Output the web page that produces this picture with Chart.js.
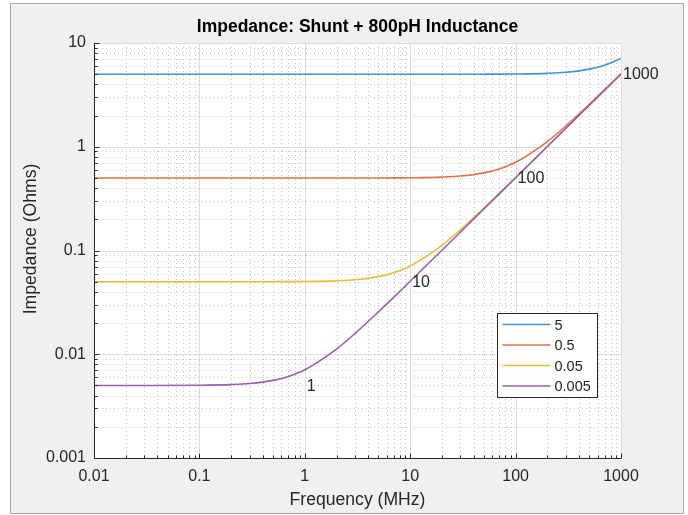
<!DOCTYPE html>
<html>
<head>
<meta charset="utf-8">
<title>Impedance: Shunt + 800pH Inductance</title>
<script src="https://cdn.jsdelivr.net/npm/chart.js@4.4.1/dist/chart.umd.min.js"></script>
<style>
  html, body { margin: 0; padding: 0; background: #fff; }
  canvas { display: block; }
</style>
</head>
<body>
<canvas id="zchart" width="688" height="515"></canvas>
<script>
// ---- data: |Z| of shunt R in series with 800pH, sampled at these frequencies ----
const freqMHz = [0.01, 0.03, 0.1, 0.2, 0.3, 0.5, 0.7, 1, 2, 3, 5, 7, 10, 20, 30, 50, 70, 100, 200, 300, 500, 700, 1000];

const shuntNames = ['5', '0.5', '0.05', '0.005'];
const zR5    = [5, 5, 5, 5, 5, 5, 5, 5, 5, 5, 5, 5, 5, 5, 5, 5.006, 5.012, 5.025, 5.10, 5.222, 5.596, 6.114, 7.09];
const zR05   = [0.5, 0.5, 0.5, 0.5, 0.5, 0.5, 0.5, 0.5, 0.5, 0.5002, 0.5006, 0.5012, 0.5025, 0.510, 0.5222, 0.5596, 0.6114, 0.709, 1.123, 1.589, 2.563, 3.554, 5.052];
const zR005  = [0.05, 0.05, 0.05, 0.05, 0.05, 0.05006, 0.05012, 0.05025, 0.0510, 0.05222, 0.05596, 0.06114, 0.0709, 0.1123, 0.1589, 0.2563, 0.3554, 0.5052, 1.006, 1.509, 2.514, 3.519, 5.028];
const zR0005 = [0.005, 0.005, 0.005025, 0.0051, 0.005222, 0.005596, 0.006114, 0.00709, 0.01123, 0.01589, 0.02563, 0.03554, 0.05052, 0.1006, 0.1509, 0.2514, 0.3519, 0.5027, 1.005, 1.508, 2.513, 3.519, 5.027];
const seriesZ = [zR5, zR05, zR005, zR0005];
const seriesColors = ['#3f95d3', '#df7448', '#ecbc3a', '#9d5bb3'];

const xTicks = [0.01, 0.1, 1, 10, 100, 1000];
const xTickLabels = ['0.01', '0.1', '1', '10', '100', '1000'];
const yTicks = [0.001, 0.01, 0.1, 1, 10];
const yTickLabels = ['0.001', '0.01', '0.1', '1', '10'];

// reactance of the inductor alone, marked every decade
const markFreqs = [1, 10, 100, 1000];
const markZ = [0.00503, 0.0503, 0.503, 5.03];
const markLabels = ['1', '10', '100', '1000'];

const FONT = '"Liberation Sans", Arial, Helvetica, sans-serif';
const TEXT = '#262626';

// ---- MATLAB-style frame, grid, axes, legend, labels ----
const figPlugin = {
  id: 'figStyle',
  beforeDraw(chart) {
    const { ctx, chartArea: a } = chart;
    ctx.save();
    ctx.fillStyle = '#fff';
    ctx.fillRect(0, 0, chart.width, chart.height);
    ctx.fillStyle = '#f0f0f0';
    ctx.strokeStyle = '#a8a8a8';
    ctx.lineWidth = 1;
    ctx.fillRect(10.5, 3.5, 673, 510);
    ctx.strokeRect(10.5, 3.5, 673, 510);
    ctx.fillStyle = '#fff';
    ctx.fillRect(a.left, a.top, a.right - a.left, a.bottom - a.top);
    ctx.restore();
  },
  beforeDatasetsDraw(chart) {
    const { ctx, chartArea: a, scales: { x, y } } = chart;
    const xs = pos => Math.round(x.getPixelForValue(pos)) + 0.5;
    const ys = pos => Math.round(y.getPixelForValue(pos)) + 0.5;
    ctx.save();
    ctx.lineWidth = 1;
    // minor grid, dotted
    ctx.strokeStyle = '#c4c4c4';
    ctx.setLineDash([1, 3]);
    ctx.beginPath();
    xTicks.slice(0, -1).forEach(d => {
      for (let m = 2; m <= 9; m++) {
        const px = xs(d * m);
        ctx.moveTo(px, a.top); ctx.lineTo(px, a.bottom);
      }
    });
    yTicks.slice(0, -1).forEach(d => {
      for (let m = 2; m <= 9; m++) {
        const py = ys(d * m);
        ctx.moveTo(a.left, py); ctx.lineTo(a.right, py);
      }
    });
    ctx.stroke();
    // major grid, solid
    ctx.setLineDash([]);
    ctx.strokeStyle = '#dcdcdc';
    ctx.beginPath();
    xTicks.forEach(v => { const px = xs(v); ctx.moveTo(px, a.top); ctx.lineTo(px, a.bottom); });
    yTicks.forEach(v => { const py = ys(v); ctx.moveTo(a.left, py); ctx.lineTo(a.right, py); });
    ctx.stroke();
    ctx.restore();
  },
  afterDatasetsDraw(chart) {
    const { ctx, chartArea: a, scales: { x, y } } = chart;
    const L = Math.round(a.left) + 0.5;
    const B = Math.round(a.bottom) + 0.5;
    ctx.save();

    // left + bottom axis lines with inward ticks
    ctx.strokeStyle = TEXT;
    ctx.lineWidth = 1;
    ctx.beginPath();
    ctx.moveTo(L, a.top); ctx.lineTo(L, B); ctx.lineTo(a.right, B);
    xTicks.forEach((d, i) => {
      const px = Math.round(x.getPixelForValue(d)) + 0.5;
      ctx.moveTo(px, B); ctx.lineTo(px, B - 5);
      if (i < xTicks.length - 1) {
        for (let m = 2; m <= 9; m++) {
          const mx = Math.round(x.getPixelForValue(d * m)) + 0.5;
          ctx.moveTo(mx, B); ctx.lineTo(mx, B - 3);
        }
      }
    });
    yTicks.forEach((d, i) => {
      const py = Math.round(y.getPixelForValue(d)) + 0.5;
      ctx.moveTo(L, py); ctx.lineTo(L + 5, py);
      if (i < yTicks.length - 1) {
        for (let m = 2; m <= 9; m++) {
          const my = Math.round(y.getPixelForValue(d * m)) + 0.5;
          ctx.moveTo(L, my); ctx.lineTo(L + 3, my);
        }
      }
    });
    ctx.stroke();

    // decade markers on the inductive slope
    ctx.fillStyle = TEXT;
    ctx.font = '16px ' + FONT;
    ctx.textAlign = 'left';
    ctx.textBaseline = 'middle';
    markFreqs.forEach((f, i) => {
      ctx.fillText(markLabels[i], x.getPixelForValue(f) + 2, y.getPixelForValue(markZ[i]) + 1);
    });

    // legend box
    const bw = 100, bh = 84;
    const bx = Math.round(a.right - 24 - bw) + 0.5;
    const by = Math.round(a.bottom - 61 - bh) + 0.5;
    ctx.fillStyle = '#fff';
    ctx.fillRect(bx, by, bw, bh);
    ctx.strokeStyle = TEXT;
    ctx.strokeRect(bx, by, bw, bh);
    ctx.font = '14.5px ' + FONT;
    chart.data.datasets.slice().sort((p, q) => p.legendIdx - q.legendIdx).forEach((ds, i) => {
      const ry = by + 11 + i * 20.5;
      ctx.strokeStyle = ds.borderColor;
      ctx.lineWidth = 1.5;
      ctx.beginPath();
      ctx.moveTo(bx + 5, ry); ctx.lineTo(bx + 53, ry);
      ctx.stroke();
      ctx.fillStyle = TEXT;
      ctx.fillText(ds.label, bx + 57, ry + 1);
    });
    ctx.restore();
  },
  afterDraw(chart) {
    const { ctx, chartArea: a } = chart;
    ctx.save();
    ctx.textAlign = 'center';
    ctx.textBaseline = 'middle';
    ctx.fillStyle = '#000';
    ctx.font = 'bold 17.5px ' + FONT;
    ctx.fillText('Impedance: Shunt + 800pH Inductance', (a.left + a.right) / 2, 27.5);
    // y axis title sits a little above the axis centre
    ctx.fillStyle = TEXT;
    ctx.font = '17.6px ' + FONT;
    ctx.translate(31, 239);
    ctx.rotate(-Math.PI / 2);
    ctx.fillText('Impedance (Ohms)', 0, 0);
    ctx.restore();
  }
};

// purple on top, blue at the bottom
const datasets = shuntNames.map((name, i) => ({
  label: name,
  legendIdx: i,
  order: shuntNames.length - 1 - i,
  data: freqMHz.map((f, k) => ({ x: f, y: seriesZ[i][k] })),
  borderColor: seriesColors[i],
  borderWidth: 1.6,
  pointRadius: 0,
  fill: false,
  cubicInterpolationMode: 'monotone'
}));

new Chart(document.getElementById('zchart'), {
  type: 'line',
  data: { datasets },
  plugins: [figPlugin],
  options: {
    responsive: false,
    animation: false,
    devicePixelRatio: 1,
    layout: { padding: { left: 10, right: 67, top: 43, bottom: 0 } },
    plugins: { legend: { display: false }, tooltip: { enabled: false }, title: { display: false } },
    scales: {
      x: {
        type: 'logarithmic',
        min: 0.01, max: 1000,
        afterBuildTicks: s => { s.ticks = xTicks.map(v => ({ value: v })); },
        afterFit: s => { s.height = 57; },
        grid: { display: false, drawTicks: false },
        border: { display: false },
        ticks: {
          autoSkip: false, maxRotation: 0, padding: 9,
          color: TEXT, font: { family: FONT, size: 16 },
          callback: v => xTickLabels[xTicks.indexOf(v)] ?? ''
        },
        title: {
          display: true, text: 'Frequency (MHz)', color: TEXT,
          font: { family: FONT, size: 17.6 }, padding: { top: 0, bottom: 4.5 }
        }
      },
      y: {
        type: 'logarithmic',
        min: 0.001, max: 10,
        afterBuildTicks: s => { s.ticks = yTicks.map(v => ({ value: v })); },
        afterFit: s => { s.width = 84; },
        grid: { display: false, drawTicks: false },
        border: { display: false },
        ticks: {
          autoSkip: false, padding: 8,
          color: TEXT, font: { family: FONT, size: 16 },
          callback: v => yTickLabels[yTicks.indexOf(v)] ?? ''
        }
      }
    }
  }
});
</script>
</body>
</html>
